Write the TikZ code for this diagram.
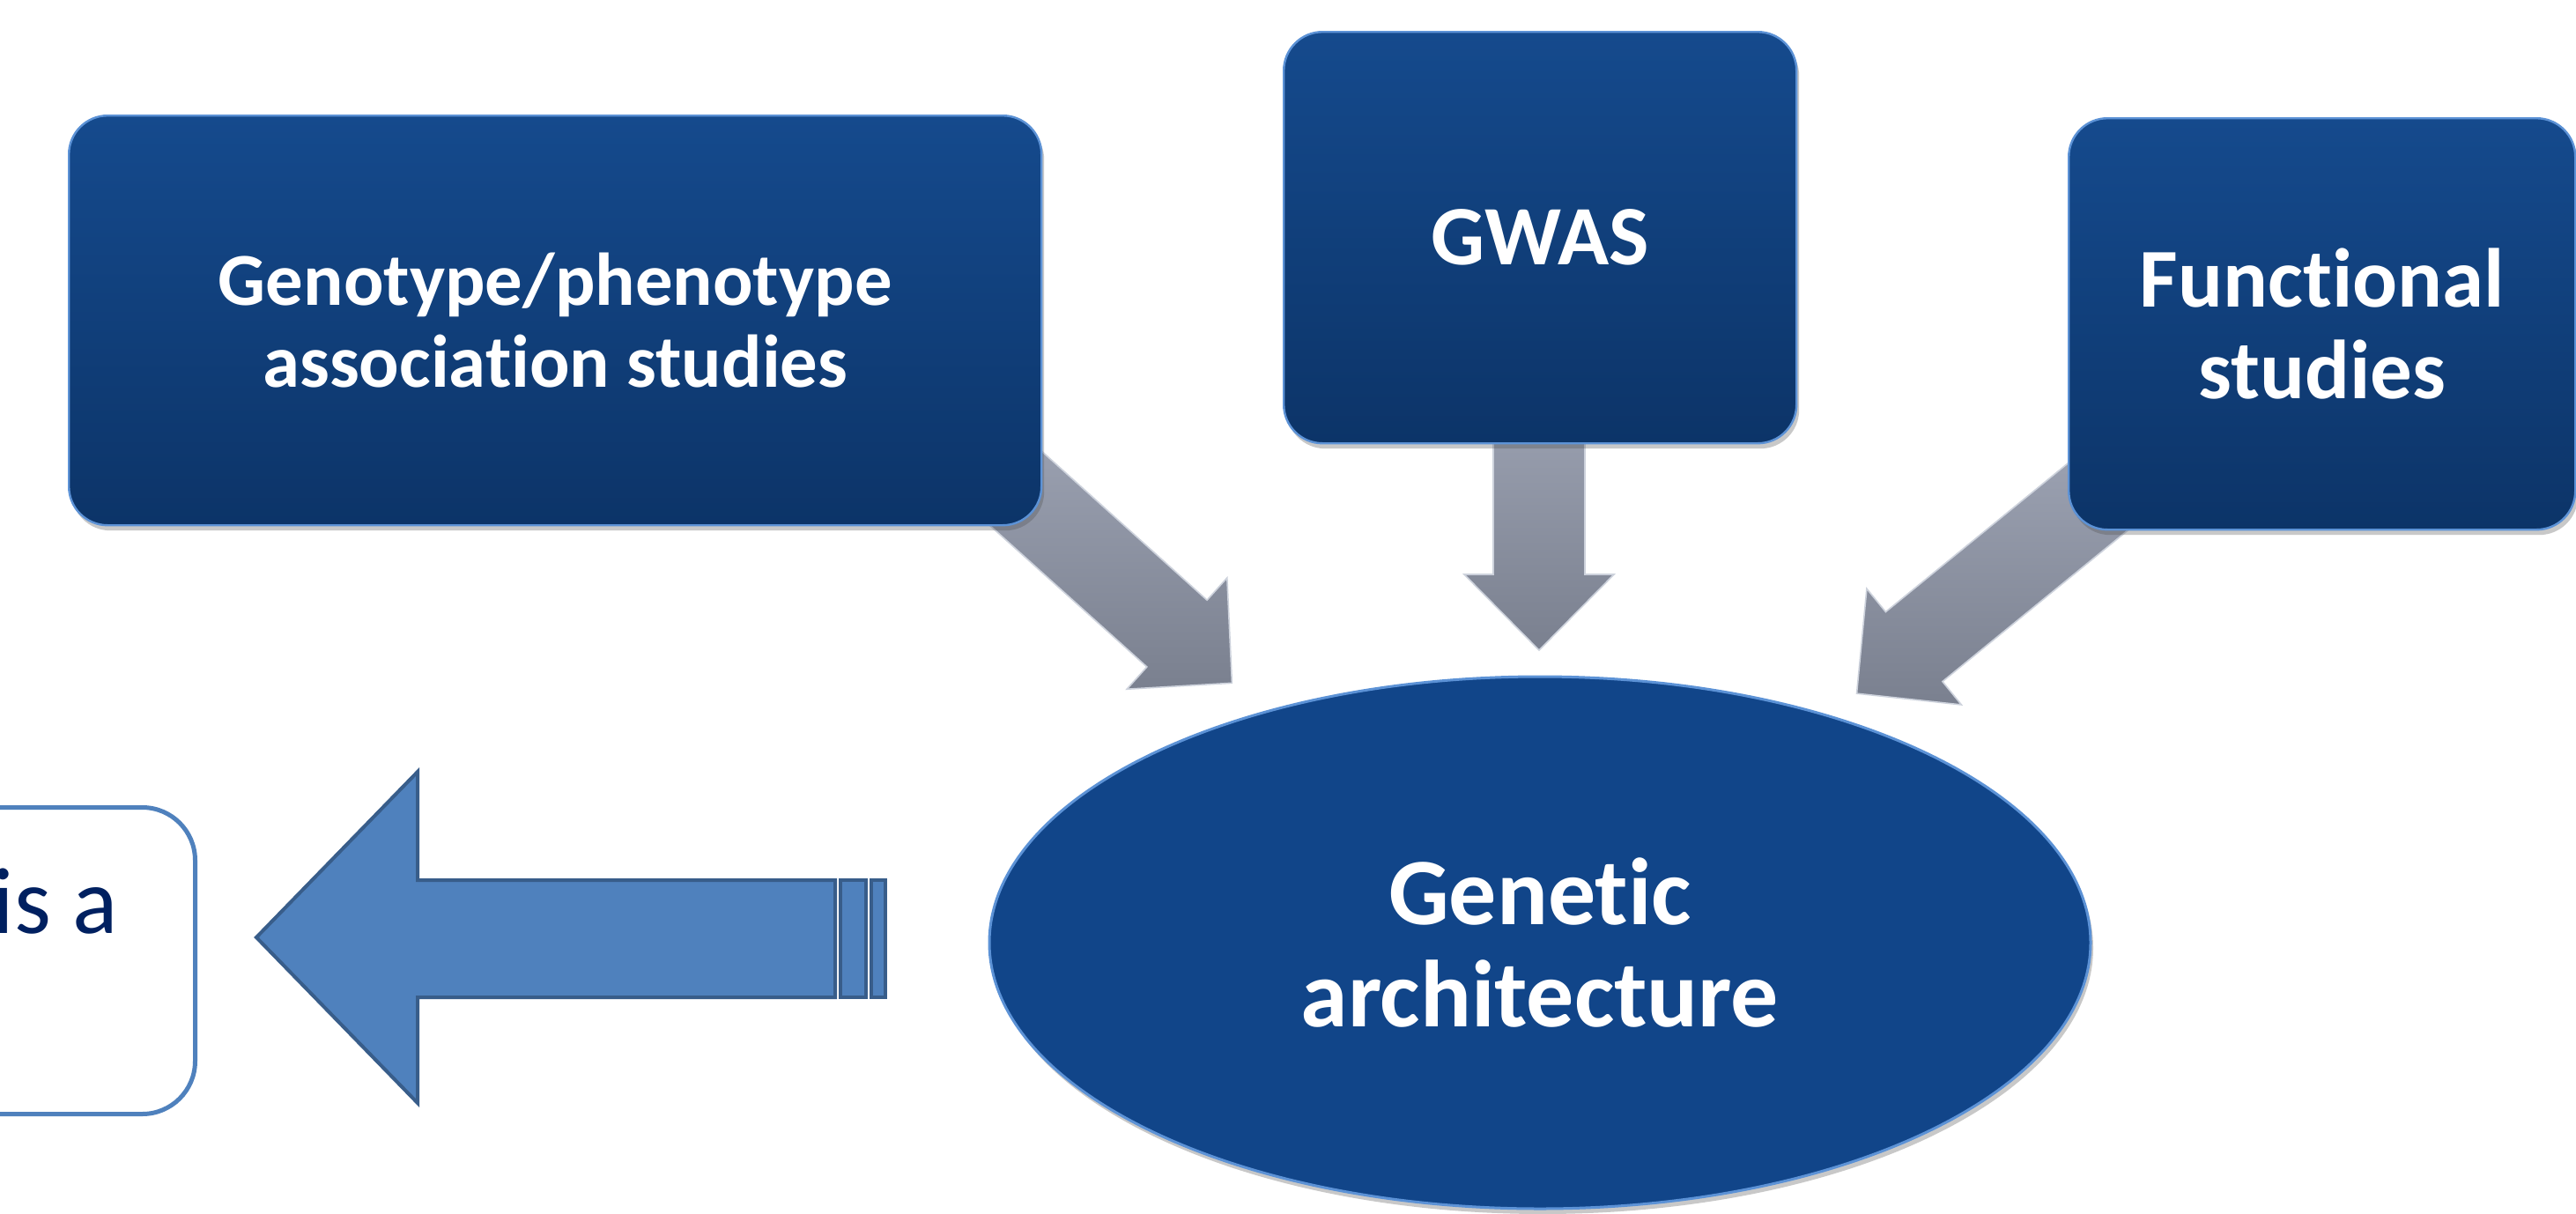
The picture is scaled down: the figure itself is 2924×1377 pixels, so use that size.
\documentclass[tikz,border=0pt]{standalone}
\usepackage{fontspec}
\setmainfont{Carlito}[Ligatures=NoCommon]
\usetikzlibrary{shapes.geometric,shadows}
\definecolor{boxtop}{RGB}{21,74,141}
\definecolor{boxbot}{RGB}{12,52,104}
\definecolor{ellfill}{RGB}{17,69,137}
\definecolor{edgehi}{RGB}{92,146,214}
\definecolor{graylt}{RGB}{156,162,178}
\definecolor{graydk}{RGB}{122,128,143}
\definecolor{grayedge}{RGB}{205,210,220}
\definecolor{arrowblue}{RGB}{79,129,189}
\definecolor{arrowedge}{RGB}{56,93,138}
\definecolor{navytext}{RGB}{0,32,96}
\begin{document}
\begin{tikzpicture}[x=0.5pt,y=-0.5pt,
  bluebox/.style={rectangle, rounded corners=22pt, top color=boxtop, bottom color=boxbot,
    draw=edgehi, line width=1.2pt, inner sep=0pt, text=white, align=center,
    drop shadow={shadow xshift=1.5pt, shadow yshift=-3pt, opacity=0.3, fill=black!70}},
  ellbox/.style={ellipse, fill=ellfill, draw=edgehi, line width=1.5pt, inner sep=0pt,
    text=white, align=center,
    drop shadow={shadow xshift=1.5pt, shadow yshift=-3pt, opacity=0.3, fill=black!70}},
  grayarrow/.style={top color=graylt, bottom color=graydk, draw=grayedge, line width=0.8pt},
  bluearrow/.style={fill=arrowblue, draw=arrowedge, line width=2pt},
  isabox/.style={rectangle, rounded corners=30pt, fill=white, draw=arrowblue, line width=2.5pt}
]
\useasboundingbox (0,0) rectangle (2924,1377);
\fill[white] (0,0) rectangle (2924,1377);
\clip (0,0) rectangle (2924,1377);

% gray block arrows (drawn beneath the boxes)
\coordinate (t1) at (1116,521);
\coordinate (t2) at (1747,450);
\coordinate (t3) at (2402,547);
\begin{scope}[shift={(t1)}, rotate=-42]
  \path[grayarrow] (0,-51) -- (296,-51) -- (296,-85) -- (380,0) -- (296,85) -- (296,51) -- (0,51) -- cycle;
\end{scope}
\begin{scope}[shift={(t2)}, rotate=-90]
  \path[grayarrow] (0,-52) -- (202,-52) -- (202,-85) -- (288,0) -- (202,85) -- (202,52) -- (0,52) -- cycle;
\end{scope}
\begin{scope}[shift={(t3)}, rotate=-140.8]
  \path[grayarrow] (0,-51) -- (296,-51) -- (296,-85) -- (380,0) -- (296,85) -- (296,51) -- (0,51) -- cycle;
\end{scope}

% boxes
\node[bluebox, anchor=north west, minimum width=552pt, minimum height=232.5pt,
  font=\bfseries\fontsize{42.4}{46.5}\selectfont] (geno) at (77,130)
  {Genotype/phenotype\\association studies};
\node[bluebox, anchor=north west, minimum width=291pt, minimum height=233.5pt,
  font=\bfseries\fontsize{48}{58}\selectfont] (gwas) at (1456,35) {GWAS};
\node[bluebox, anchor=north west, minimum width=287.5pt, minimum height=233.5pt,
  font=\bfseries\fontsize{47.5}{52}\selectfont] (func) at (2347,133)
  {Functional\\studies};

% central ellipse
\node[ellbox, minimum width=625pt, minimum height=302pt,
  font=\bfseries\fontsize{54}{58}\selectfont] (gen) at (1748,1070)
  {Genetic\\architecture};

% left box (mostly outside the picture)
\node[isabox, anchor=north east, minimum width=462pt, minimum height=174pt] (isab) at (224,914) {};
\node[font=\fontsize{53.5}{64}\selectfont, text=navytext, anchor=base east, inner sep=0pt]
  (isat) at (134,1059) {is a};

% striped blue arrow from the ellipse to the left box
\coordinate (btip) at (291,1064);
\path[bluearrow] (btip) -- (474,876) -- (474,999) -- (948,999) -- (948,1132) -- (474,1132) -- (474,1252) -- cycle;
\path[bluearrow] (954,999) rectangle (983,1132);
\path[bluearrow] (989,999) rectangle (1005,1132);
\end{tikzpicture}
\end{document}
